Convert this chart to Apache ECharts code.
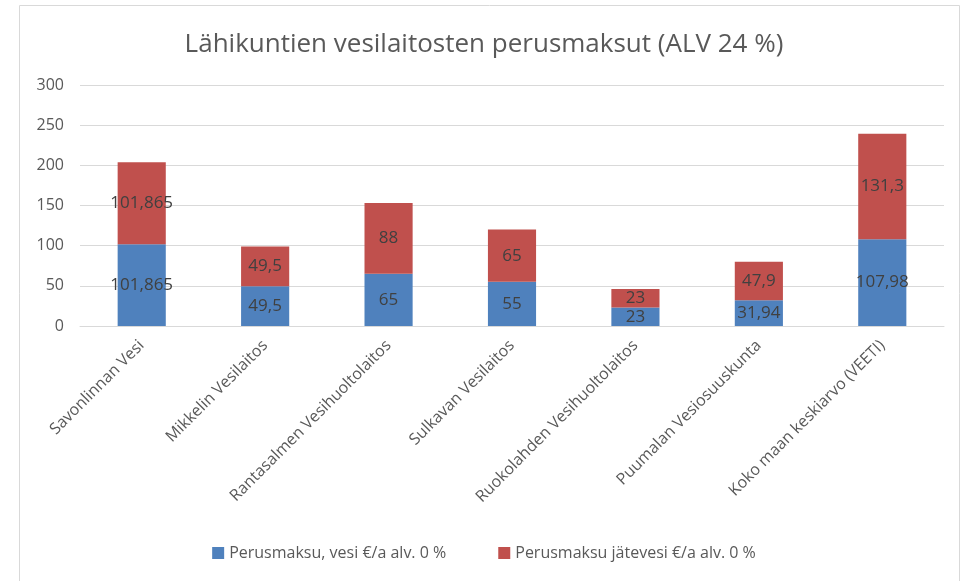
<!DOCTYPE html>
<html><head><meta charset="utf-8">
<script src="https://cdn.jsdelivr.net/npm/echarts@6/dist/echarts.min.js"></script>
<style>html,body{margin:0;padding:0;background:#fff}#c{width:968px;height:581px}</style>
</head><body><div id="c"></div>
<script>
const categories = ["Savonlinnan Vesi","Mikkelin Vesilaitos","Rantasalmen Vesihuoltolaitos","Sulkavan Vesilaitos","Ruokolahden Vesihuoltolaitos","Puumalan Vesiosuuskunta","Koko maan keskiarvo (VEETI)"];
const vesi = [101.865, 49.5, 65, 55, 23, 31.94, 107.98];
const jatevesi = [101.865, 49.5, 88, 65, 23, 47.9, 131.3];
const seriesNames = ["Perusmaksu, vesi €/a alv. 0 %", "Perusmaksu jätevesi €/a alv. 0 %"];
const titleText = "Lähikuntien vesilaitosten perusmaksut (ALV 24 %)";
const yTicks = {min: 0, max: 300, interval: 50};

const font = "'Open Sans', 'Noto Sans', sans-serif";
const fmt = p => String(p.value).replace('.', ',');
const chart = echarts.init(document.getElementById('c'), null, {renderer: 'canvas'});
chart.setOption({
  animation: false,
  textStyle: {fontFamily: font},
  title: {text: titleText, left: 'center', top: 27,
    textStyle: {fontFamily: font, fontSize: 26, fontWeight: 'normal', color: '#595959'}},
  graphic: [{type: 'rect', shape: {x: 19.5, y: 5.5, width: 940, height: 580},
    style: {fill: 'none', stroke: '#d9d9d9', lineWidth: 1}, silent: true}],
  grid: {left: 80, right: 24, top: 85, bottom: 255, containLabel: false},
  legend: {bottom: 15, left: 'center', itemWidth: 12, itemHeight: 12, itemGap: 52, icon: 'rect',
    textStyle: {fontFamily: font, fontSize: 16, color: '#595959'}, data: seriesNames},
  xAxis: {type: 'category', data: categories,
    axisLine: {lineStyle: {color: '#d9d9d9'}}, axisTick: {show: false},
    axisLabel: {rotate: 45, interval: 0, fontSize: 16, color: '#595959', fontFamily: font, margin: 17}},
  yAxis: {type: 'value', min: yTicks.min, max: yTicks.max, interval: yTicks.interval,
    axisLine: {show: false}, axisTick: {show: false},
    splitLine: {lineStyle: {color: '#d9d9d9'}},
    axisLabel: {fontSize: 16, color: '#595959', fontFamily: font, margin: 16}},
  series: [
    {name: seriesNames[0], type: 'bar', stack: 's', data: vesi, barWidth: '39%',
      itemStyle: {color: '#4f81bd'},
      label: {show: true, position: 'inside', formatter: fmt, color: '#404040', fontSize: 17, fontFamily: font}},
    {name: seriesNames[1], type: 'bar', stack: 's', data: jatevesi, barWidth: '39%',
      itemStyle: {color: '#c0504d'},
      label: {show: true, position: 'inside', formatter: fmt, color: '#404040', fontSize: 17, fontFamily: font}}
  ]
});
</script></body></html>
